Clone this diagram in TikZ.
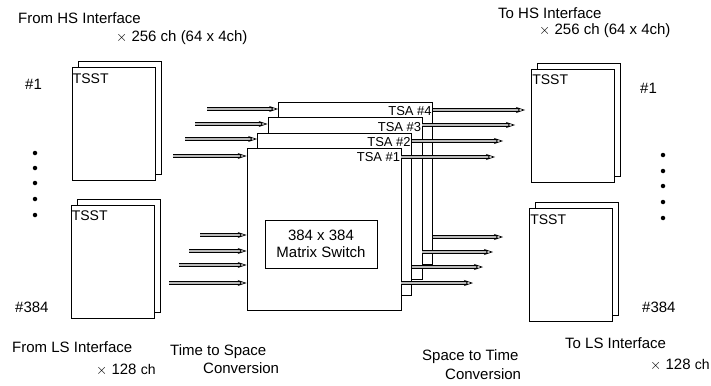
\documentclass[tikz,border=0pt]{standalone}
\usepackage{fontspec}
\setmainfont{Liberation Sans}
\usetikzlibrary{arrows.meta,shadows}
\tikzset{
  tsst/.style={draw, fill=white, line width=0.8pt, minimum width=83pt, minimum height=113pt, inner sep=0pt,
    copy shadow={shadow xshift=6pt, shadow yshift=6pt},
    label={[anchor=north west, inner sep=1pt, yshift=-5pt, font=\fontsize{14}{16}\selectfont]north west:TSST}},
  tsa/.style={draw, fill=white, line width=0.8pt, minimum width=154pt, minimum height=162pt, inner sep=0pt},
  tsalab/.style={anchor=north east, inner sep=1pt, yshift=-4pt, font=\fontsize{13}{15}\selectfont},
  sig/.style={draw=black, line width=0.7pt, double=gray!55, double distance=2pt, -{Stealth[open,length=9pt,width=6pt]}},
  txt/.style={anchor=west, inner sep=0pt},
  dot/.style={circle, fill, inner sep=0pt, minimum size=4.5pt}
}
\newcommand{\smallch}{{\fontsize{14}{16}\selectfont ch}}
\begin{document}
\begin{tikzpicture}[x=1pt, y=-1pt, font=\fontsize{15}{17}\selectfont]
	\useasboundingbox (0,0) rectangle (711,385);
	% texts
	\node[txt] (fromhs) at (18,18) {From HS Interface};
	\node[txt] (fromhsch) at (116,38) {$\times$ 256 ch (64 x 4ch)};
	\node[txt] (fromls) at (12,347) {From LS Interface};
	\node[txt] (fromlsch) at (96,370) {$\times$ 128 \smallch};
	\node[txt] (tts) at (170,352) {Time to Space};
	\node[txt] (ttsconv) at (203,368) {Conversion};
	\node[txt] (stt) at (422,357) {Space to Time};
	\node[txt] (sttconv) at (445,374) {Conversion};
	\node[txt] (tohs) at (498,13) {To HS Interface};
	\node[txt] (tohsch) at (539,31) {$\times$ 256 ch (64 x 4ch)};
	\node[txt] (tols) at (565,343) {To LS Interface};
	\node[txt] (tolsch) at (650,365) {$\times$ 128 \smallch};
	\node[txt] (lnum1) at (25,84) {\#1};
	\node[txt] (lnum384) at (15,307) {\#384};
	\node[txt] (rnum1) at (640,88) {\#1};
	\node[txt] (rnum384) at (642,307) {\#384};
	% dots
	\node[dot] (ld1) at (35,153) {};
	\node[dot] (ld2) at (35,168) {};
	\node[dot] (ld3) at (35,183) {};
	\node[dot] (ld4) at (35,199) {};
	\node[dot] (ld5) at (35,215) {};
	\node[dot] (rd1) at (663,155) {};
	\node[dot] (rd2) at (663,171) {};
	\node[dot] (rd3) at (663,186) {};
	\node[dot] (rd4) at (663,202) {};
	\node[dot] (rd5) at (663,218) {};
	% TSST boxes
	\node[tsst] (lt) at (113.5,124) {};
	\node[tsst] (lb) at (112.5,261.5) {};
	\node[tsst] (rt) at (573,125.5) {};
	\node[tsst] (rb) at (571,265) {};
	% TSA stack
	\node[tsa, label={[tsalab]north east:TSA \#4}] (tsa4) at (355.5,183) {};
	\node[tsa, label={[tsalab]north east:TSA \#3}] (tsa3) at (345,198.5) {};
	\node[tsa, label={[tsalab]north east:TSA \#2}] (tsa2) at (334.5,214) {};
	\node[tsa, label={[tsalab]north east:TSA \#1}] (tsa1) at (324,229) {};
	\node[draw, line width=0.8pt, minimum width=112pt, minimum height=48pt, align=center, inner sep=0pt] (msw) at (321,244) {384 x 384\\Matrix Switch};
	% input arrows
	\coordinate (in4) at (207,109);
	\coordinate (in3) at (195,124);
	\coordinate (in2) at (185,139);
	\coordinate (in1) at (173,156);
	\draw[sig] (in4) -- (in4 -| tsa4.west);
	\draw[sig] (in3) -- (in3 -| tsa3.west);
	\draw[sig] (in2) -- (in2 -| tsa2.west);
	\draw[sig] (in1) -- (in1 -| tsa1.west);
	\coordinate (lin4) at (200,235);
	\coordinate (lin3) at (189,251);
	\coordinate (lin2) at (179,265);
	\coordinate (lin1) at (169,283);
	\draw[sig] (lin4) -- (lin4 -| tsa1.west);
	\draw[sig] (lin3) -- (lin3 -| tsa1.west);
	\draw[sig] (lin2) -- (lin2 -| tsa1.west);
	\draw[sig] (lin1) -- (lin1 -| tsa1.west);
	% output arrows
	\coordinate (out4) at (525,110);
	\coordinate (out3) at (515,125);
	\coordinate (out2) at (503,141);
	\coordinate (out1) at (495,157);
	\draw[sig] (out4 -| tsa4.east) -- (out4);
	\draw[sig] (out3 -| tsa3.east) -- (out3);
	\draw[sig] (out2 -| tsa2.east) -- (out2);
	\draw[sig] (out1 -| tsa1.east) -- (out1);
	\coordinate (lout4) at (503,237);
	\coordinate (lout3) at (493,252);
	\coordinate (lout2) at (483,267);
	\coordinate (lout1) at (473,283);
	\draw[sig] (lout4 -| tsa4.east) -- (lout4);
	\draw[sig] (lout3 -| tsa3.east) -- (lout3);
	\draw[sig] (lout2 -| tsa2.east) -- (lout2);
	\draw[sig] (lout1 -| tsa1.east) -- (lout1);
\end{tikzpicture}
\end{document}
